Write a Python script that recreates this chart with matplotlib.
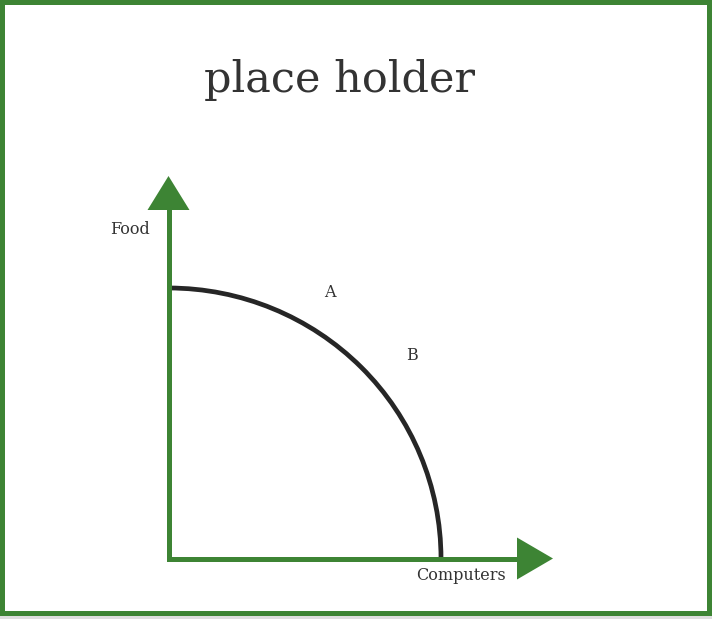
import matplotlib.pyplot as plt
from matplotlib.patches import Arc, Polygon, Rectangle

# データ
x_label = "Computers"
y_label = "Food"
computers_max = 100   # 食料ゼロの時のコンピュータ生産量
food_max = 100        # コンピュータゼロの時の食料生産量
point_names = ["A", "B"]
point_x = [59.3, 89.4]
point_y = [98.2, 74.9]
title = "place holder"

GREEN = "#3d8434"
DARK = "#262626"
TEXT = "#333333"
FONT = "DejaVu Serif"

W, H = 712, 619
fig = plt.figure(figsize=(W / 100, H / 100), dpi=100)
fig.patch.set_facecolor("#dedede")

# 枠線
fig.patches.append(Rectangle((0, 3 / H), 1, 616 / H, transform=fig.transFigure,
                             facecolor=GREEN, edgecolor="none", zorder=-2))
fig.patches.append(Rectangle((5 / W, 8 / H), 702 / W, 606 / H, transform=fig.transFigure,
                             facecolor="white", edgecolor="none", zorder=-1))

fig.text(340 / W, 1 - 80 / H, title, ha="center", va="center",
         fontsize=31, family=FONT, color=TEXT)

# 座標軸（原点 = 軸の交点）
ax_w, ax_h = 384.5, 382.5
ax = fig.add_axes([168.5 / W, 60.5 / H, ax_w / W, ax_h / H])
ax.set_xlim(0, computers_max * ax_w / 272.5)
ax.set_ylim(0, food_max * ax_h / 270.5)
ax.axis("off")
ax.patch.set_visible(False)

# 生産可能性フロンティア
ax.add_patch(Arc((0, 0), 2 * computers_max, 2 * food_max, theta1=0, theta2=90,
                 color=DARK, lw=3.4, zorder=3))

# 矢印
t = ax.transAxes
ax.plot([0, 0], [0, 0.92], color=GREEN, lw=3.6, transform=t,
        solid_capstyle="projecting", clip_on=False, zorder=4)
ax.plot([0, 0.915], [0, 0], color=GREEN, lw=3.6, transform=t,
        solid_capstyle="projecting", clip_on=False, zorder=4)
hx, hy = 21 / ax_w, 21 / ax_h
ax.add_patch(Polygon([(-hx, 348.5 / ax_h), (hx, 348.5 / ax_h), (0, 1)], closed=True,
                     transform=t, facecolor=GREEN, edgecolor="none", clip_on=False, zorder=4))
ax.add_patch(Polygon([(348.5 / ax_w, -hy), (348.5 / ax_w, hy), (1, 0)], closed=True,
                     transform=t, facecolor=GREEN, edgecolor="none", clip_on=False, zorder=4))

# ラベル
ax.text(-18.5 / ax_w, 0.859, y_label, transform=t, ha="right", va="center",
        fontsize=11.5, family=FONT, color=TEXT)
ax.text(0.761, -0.045, x_label, transform=t, ha="center", va="center",
        fontsize=11.5, family=FONT, color=TEXT)
for name, px, py in zip(point_names, point_x, point_y):
    ax.text(px, py, name, ha="center", va="center", fontsize=11.5,
            family=FONT, color=TEXT)

fig.savefig("out.png", dpi=100)
